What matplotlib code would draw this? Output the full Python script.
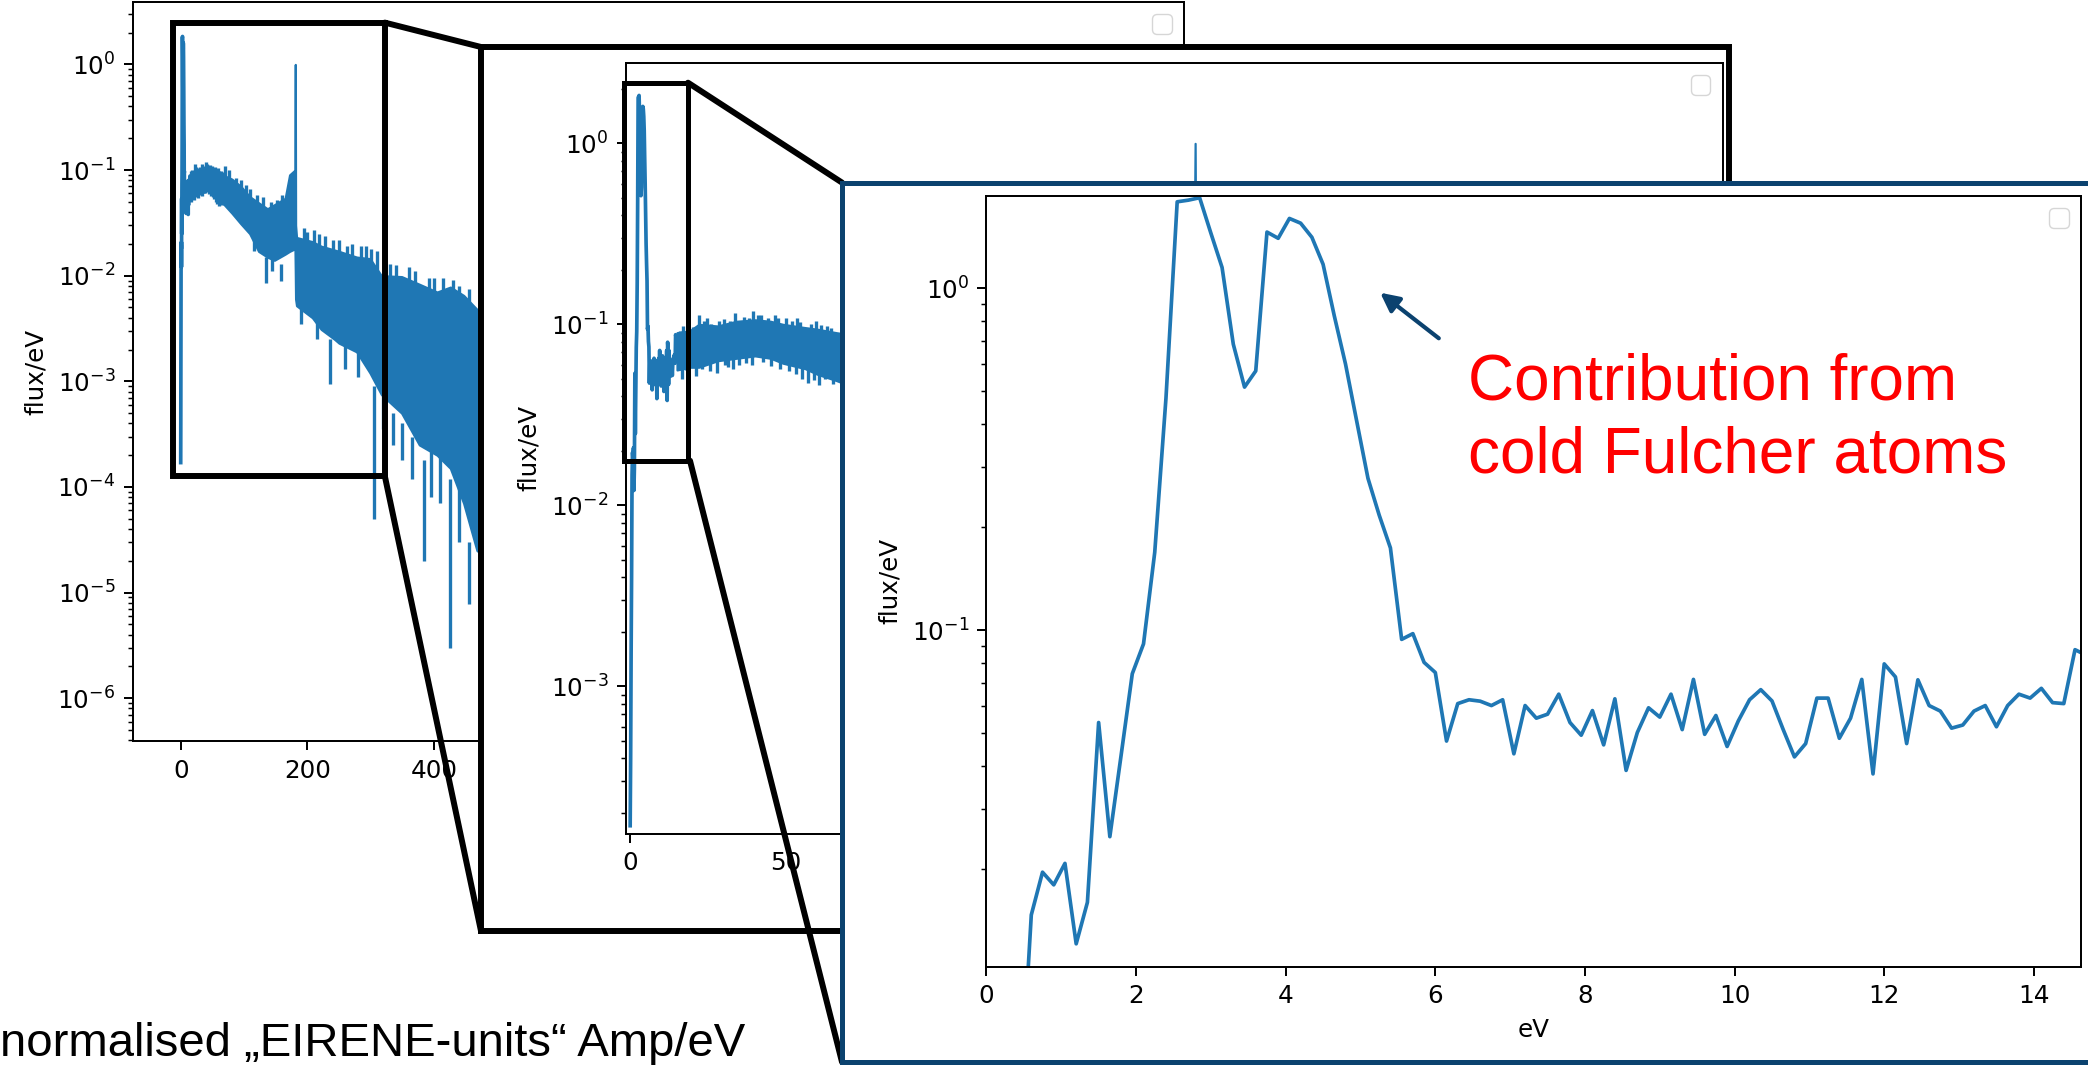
import matplotlib
matplotlib.use("Agg")
import matplotlib.pyplot as plt
from matplotlib.patches import Rectangle, FancyArrowPatch
from matplotlib.lines import Line2D

W, H = 2088, 1065
BLUE = "#1f77b4"
NAVY = "#0b426f"
K = 1.77  # screenshots are blown up ~1.77x w.r.t. default matplotlib sizes

# low energy part of the spectrum (eV, flux/eV), as in the big zoom
low_e = [0.00, 0.15, 0.30, 0.45, 0.60, 0.75, 0.90, 1.05, 1.20, 1.35,
         1.50, 1.65, 1.80, 1.95, 2.10, 2.25, 2.40, 2.55, 2.70, 2.85,
         3.00, 3.15, 3.30, 3.45, 3.60, 3.75, 3.90, 4.05, 4.20, 4.35,
         4.50, 4.65, 4.80, 4.95, 5.10, 5.25, 5.40, 5.55, 5.70, 5.85,
         6.00, 6.15, 6.30, 6.45, 6.60, 6.75, 6.90, 7.05, 7.20, 7.35,
         7.50, 7.65, 7.80, 7.95, 8.10, 8.25, 8.40, 8.55, 8.70, 8.85,
         9.00, 9.15, 9.30, 9.45, 9.60, 9.75, 9.90, 10.05, 10.20, 10.35,
         10.50, 10.65, 10.80, 10.95, 11.10, 11.25, 11.40, 11.55, 11.70, 11.85,
         12.00, 12.15, 12.30, 12.45, 12.60, 12.75, 12.90, 13.05, 13.20, 13.35,
         13.50, 13.65, 13.80, 13.95, 14.10, 14.25, 14.40, 14.55, 14.70]
low_flux = [1.7e-4, 4e-4, 1.5e-3, 4.0e-3,
            0.0147, 0.0196, 0.0180, 0.0208, 0.0121, 0.0160, 0.0537, 0.0249, 0.0430, 0.0746,
            0.0912, 0.169, 0.477, 1.79, 1.81, 1.84, 1.45, 1.15, 0.686, 0.514,
            0.573, 1.46, 1.40, 1.60, 1.55, 1.41, 1.175, 0.83, 0.60, 0.408,
            0.278, 0.217, 0.174, 0.094, 0.0977, 0.0805, 0.0752, 0.0474, 0.061, 0.0626,
            0.062, 0.0602, 0.0626, 0.0435, 0.0602, 0.0553, 0.0568, 0.065, 0.0537, 0.0493,
            0.0582, 0.0462, 0.063, 0.0389, 0.0502, 0.0593, 0.0557, 0.065, 0.0512, 0.0718,
            0.0496, 0.0563, 0.0457, 0.0543, 0.0626, 0.067, 0.0621, 0.0512, 0.0426, 0.0466,
            0.0633, 0.0633, 0.0483, 0.0553, 0.0718, 0.038, 0.0797, 0.073, 0.0466, 0.0716,
            0.0602, 0.058, 0.0517, 0.0528, 0.058, 0.0602, 0.0522, 0.0602, 0.065, 0.0633,
            0.0676, 0.0614, 0.061, 0.0877, 0.0845]

# noisy high energy part: upper / lower envelope of the band
band_e = [15, 19, 22, 28, 34, 40, 45, 49, 56, 60, 66, 81, 95, 109, 123, 137, 148,
          165, 172, 180.5, 181, 181.5, 183, 208, 222, 243, 250, 278, 299, 317,
          349, 377, 405, 426, 447, 468, 490]
band_hi = [0.090, 0.092, 0.100, 0.098, 0.104, 0.106, 0.104, 0.100, 0.096, 0.094,
           0.090, 0.082, 0.070, 0.056, 0.049, 0.043, 0.047, 0.054, 0.090, 0.100,
           1.00, 0.030, 0.023, 0.021, 0.019, 0.0175, 0.017, 0.0150, 0.0145, 0.0100,
           0.0098, 0.0083, 0.0070, 0.0078, 0.0065, 0.0048, 0.0042]
band_lo = [0.056, 0.058, 0.058, 0.063, 0.065, 0.067, 0.065, 0.061, 0.057, 0.053,
           0.049, 0.039, 0.031, 0.025, 0.017, 0.015, 0.014, 0.016, 0.017, 0.018,
           0.011, 0.006, 0.0052, 0.0040, 0.0031, 0.0025, 0.0023, 0.0019, 1.2e-3, 7.5e-4,
           5e-4, 2.5e-4, 2e-4, 1.5e-4, 7e-5, 2.5e-5, 2e-5]

# single noise excursions sticking out of the band (eV, from, to)
seg_e = [16, 17, 18.5, 20, 22, 23.5, 24.5, 26, 28.3, 30, 32, 33.7, 36.5, 38, 39.5,
         41, 42, 44, 46.5, 47.5, 50, 52, 53.5, 54.5, 58, 59.5, 61, 63, 64.5,
         16.5, 18, 21, 23, 25.5, 27.8, 30.5, 31.5, 33, 35, 37, 39, 42.5, 45, 48,
         51, 53, 55, 57, 59, 60.4, 62.5, 65,
         70, 76, 88, 96, 103, 110, 120, 130, 142, 152, 160, 195, 200, 210, 218,
         228, 240, 250, 262, 270, 285, 292, 300, 310, 330, 340, 360, 370, 392,
         400, 415, 430, 440, 455,
         115, 134, 145, 158, 190, 215, 236, 260, 280, 306, 320, 335, 349, 366,
         384, 395, 410, 425, 440, 456]
seg_from = [0.07] * 29 + [0.08] * 23 + [
    0.08, 0.07, 0.06, 0.05, 0.04, 0.04, 0.03, 0.03, 0.03, 0.03, 0.03, 0.01, 0.01,
    0.01, 0.01, 0.008, 0.008, 0.006, 0.006, 0.006, 0.006, 0.005, 0.005, 0.004,
    0.003, 0.003, 0.003, 0.002, 0.002, 0.002, 0.002, 0.002, 0.002, 0.001,
    0.03, 0.015, 0.02, 0.013, 0.008, 0.005, 0.0025, 0.003, 0.002, 9e-4, 1e-3,
    5e-4, 4e-4, 3e-4, 1.8e-4, 3e-4, 2e-4, 1.2e-4, 1e-4, 3e-5]
seg_to = [0.092, 0.098, 0.100, 0.097, 0.113, 0.105, 0.108, 0.100, 0.104, 0.107,
          0.104, 0.115, 0.110, 0.108, 0.118, 0.113, 0.112, 0.109, 0.112, 0.108,
          0.109, 0.104, 0.108, 0.103, 0.100, 0.104, 0.099, 0.098, 0.096,
          0.050, 0.056, 0.052, 0.057, 0.055, 0.054, 0.060, 0.058, 0.057, 0.060,
          0.061, 0.060, 0.062, 0.059, 0.057, 0.055, 0.053, 0.050, 0.0474, 0.049,
          0.046, 0.050, 0.047,
          0.110, 0.100, 0.085, 0.080, 0.072, 0.066, 0.058, 0.055, 0.050, 0.052,
          0.058, 0.028, 0.026, 0.027, 0.025, 0.024, 0.022, 0.022, 0.019, 0.020,
          0.019, 0.019, 0.018, 0.017, 0.013, 0.0125, 0.012, 0.011, 0.0095, 0.0095,
          0.0095, 0.0092, 0.008, 0.0075,
          0.017, 0.0086, 0.011, 0.0089, 0.0035, 0.0025, 9.4e-4, 0.0013, 0.0011,
          4.95e-5, 3.5e-4, 2.5e-4, 1.8e-4, 1.2e-4, 2.0e-5, 8e-5, 7e-5, 3.0e-6,
          3e-5, 7.8e-6]


def fxy(x, y):
    return (x / W, 1 - y / H)


def axes_rect(left, top, right, bottom):
    return [left / W, 1 - bottom / H, (right - left) / W, (bottom - top) / H]


def style(ax):
    ax.tick_params(which="major", length=3.5 * K, width=0.8 * K,
                   labelsize=10 * K, pad=3.5 * K)
    ax.tick_params(which="minor", length=2 * K, width=0.6 * K)
    for s in ax.spines.values():
        s.set_linewidth(0.8 * K)
    ax.set_ylabel("flux/eV", fontsize=10 * K, labelpad=4 * K)
    ax.legend(handles=[], loc="upper right", fontsize=10 * K)


def draw_spectrum(ax):
    ax.fill_between(band_e, band_lo, band_hi, facecolor=BLUE, edgecolor=BLUE,
                    linewidth=1.5 * K * 0.6)
    ax.vlines(seg_e, seg_from, seg_to, color=BLUE, lw=1.5 * K * 0.9)
    ax.plot(low_e, low_flux, color=BLUE, lw=1.5 * K)


def line(x0, y0, x1, y1, z, lw=4.3, color="black"):
    fig.add_artist(Line2D([x0 / W, x1 / W], [1 - y0 / H, 1 - y1 / H],
                          transform=fig.transFigure, color=color, lw=lw,
                          solid_capstyle="round", zorder=z))


def box(x0, y0, x1, y1, z, lw=4.3, edge="black", face="none"):
    fig.add_artist(Rectangle(fxy(x0, y1), (x1 - x0) / W, (y1 - y0) / H,
                             transform=fig.transFigure, lw=lw, edgecolor=edge,
                             facecolor=face, joinstyle="miter", zorder=z))


fig = plt.figure(figsize=(W / 100, H / 100), dpi=100)

# panel 1: full spectrum
ax1 = fig.add_axes(axes_rect(132.6, 2, 1184, 741.4))
ax1.set_zorder(1)
draw_spectrum(ax1)
ax1.set_yscale("log")
ax1.set_xlim(-76, 1585)
ax1.set_ylim(3.9e-7, 3.9)
ax1.set_xticks([0, 200, 400, 600, 800, 1000, 1200, 1400])
style(ax1)

box(173.2, 22.6, 384.8, 476, 2)
line(384.8, 22.6, 481, 47, 2)
line(384.8, 476, 481, 931, 2)

# panel 2: first zoom
box(481, 47, 1729, 931, 3, face="white")
ax2 = fig.add_axes(axes_rect(625.5, 62.7, 1722.6, 833.5))
ax2.set_zorder(4)
draw_spectrum(ax2)
ax2.set_yscale("log")
ax2.set_xlim(-1.5, 350)
ax2.set_ylim(1.54e-4, 2.79)
ax2.set_xticks([0, 50, 100, 150, 200, 250, 300, 350])
style(ax2)

box(623.7, 82.7, 688, 460.7, 5, lw=3.6)
line(688, 82.7, 842, 182.6, 5)
line(690, 460.7, 842, 1062, 5)

# panel 3: low energy detail
box(842, 182.6, 2110, 1062, 6, lw=3.6, edge=NAVY, face="white")
ax3 = fig.add_axes(axes_rect(986.4, 195.7, 2081, 966.6))
ax3.set_zorder(7)
ax3.plot(low_e, low_flux, color=BLUE, lw=1.5 * K)
ax3.set_yscale("log")
ax3.set_xlim(0, 14.63)
ax3.set_ylim(0.01038, 1.865)
ax3.set_xticks([0, 2, 4, 6, 8, 10, 12, 14])
style(ax3)
ax3.set_xlabel("eV", fontsize=10 * K, labelpad=4 * K)

# annotations
fig.add_artist(FancyArrowPatch(fxy(1441, 340), fxy(1378, 291),
                               transform=fig.transFigure, arrowstyle="-|>",
                               mutation_scale=28, lw=3, color=NAVY, zorder=8))
fig.text(1468 / W, 1 - 400 / H, "Contribution from", color="red",
         family="Liberation Sans", fontsize=46, va="baseline", zorder=8)
fig.text(1468 / W, 1 - 472.6 / H, "cold Fulcher atoms", color="red",
         family="Liberation Sans", fontsize=46, va="baseline", zorder=8)
fig.text(0 / W, 1 - 1056 / H, "normalised \u201eEIRENE-units\u201c Amp/eV",
         color="black", family="Liberation Sans", fontsize=34,
         va="baseline", zorder=8)

fig.savefig("out.png", dpi=100)
